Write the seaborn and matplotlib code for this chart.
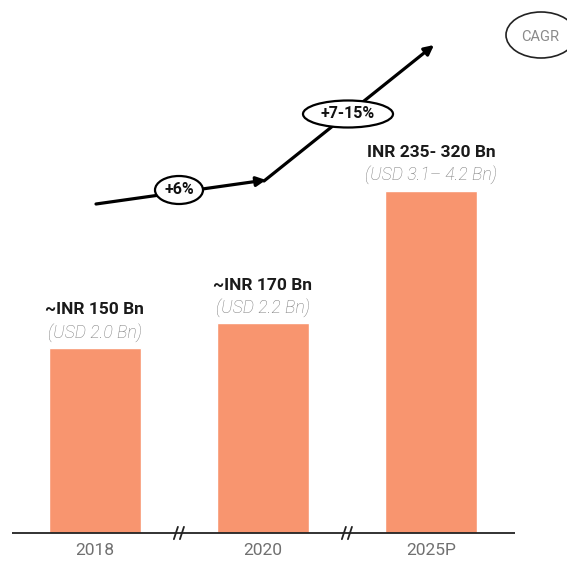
import matplotlib
matplotlib.use("Agg")
import matplotlib.pyplot as plt
import seaborn as sns
import pandas as pd
from matplotlib.transforms import Affine2D
from matplotlib.patches import Ellipse, FancyArrowPatch

# ---- data ----
categories = ["2018", "2020", "2025P"]
values = [150, 170, 277.5]           # INR Bn (2025P: midpoint of 235-320)
inr_labels = ["~INR 150 Bn", "~INR 170 Bn", "INR 235- 320 Bn"]
usd_labels = ["(USD 2.0 Bn)", "(USD 2.2 Bn)", "(USD 3.1\u2013 4.2 Bn)"]
cagr_labels = ["+6%", "+7-15%"]

sns.set_theme(style="white")
plt.rcParams["font.family"] = ["Roboto", "DejaVu Sans"]

W, H = 567, 561
fig = plt.figure(figsize=(W / 100, H / 100), dpi=100)
ax = fig.add_axes([0, 0, 1, 1])
df = pd.DataFrame({"year": categories, "value": values})
sns.barplot(data=df, x="year", y="value", color="#F8956F", saturation=1,
            width=0.55, ax=ax, errorbar=None)
ax.set_xlim(-0.565, 2.81)
ax.set_ylim(-22.7, 432.3)
ax.axis("off")

# pixel transform (origin top-left)
pix = Affine2D().scale(1 / W, -1 / H).translate(0, 1) + fig.transFigure

# baseline
ax.plot([-0.495, 2.50], [0, 0], color="#222222", lw=1.3, solid_capstyle="butt", zorder=3)
# axis breaks
for i in [0.5, 1.5]:
    for dx in (-0.018, 0.018):
        ax.plot([i + dx - 0.012, i + dx + 0.012], [-5, 5], color="#222222", lw=1.3, zorder=4)

# tick labels and value labels
for i, (c, v, a, b) in enumerate(zip(categories, values, inr_labels, usd_labels)):
    ax.text(i, -14, c, ha="center", va="center", fontsize=12.5, color="#707070")
    ax.text(i, v + 31, a, ha="center", va="center", fontsize=12.5, fontweight="bold",
            color="#1a1a1a")
    ax.text(i, v + 13, b, ha="center", va="center", fontsize=12.8, style="italic",
            fontweight="light", color="#7c7c7c")

# CAGR arrows
for p0, p1 in [((96, 204), (266, 180)), ((264, 181), (434, 45))]:
    arr = FancyArrowPatch(p0, p1, arrowstyle="-|>", mutation_scale=14, lw=2.3,
                          color="black", transform=pix, shrinkA=0, shrinkB=0)
    fig.add_artist(arr)

for (cx, cy, w, h), lab in zip([(179, 190, 48, 28), (348, 114, 90, 27)], cagr_labels):
    e = Ellipse((cx, cy), w, h, facecolor="white", edgecolor="black", lw=1.6, transform=pix)
    fig.add_artist(e)
    fig.text(cx / W, 1 - cy / H, lab, ha="center", va="center", fontsize=11.5,
             fontweight="bold", color="#111111")

# CAGR legend ellipse
e = Ellipse((541, 35), 70, 46, facecolor="white", edgecolor="#222222", lw=1.2, transform=pix)
fig.add_artist(e)
fig.text(540 / W, 1 - 37 / H, "CAGR", ha="center", va="center", fontsize=10.5, color="#8a8a8a")

fig.savefig("out.png", dpi=100)
